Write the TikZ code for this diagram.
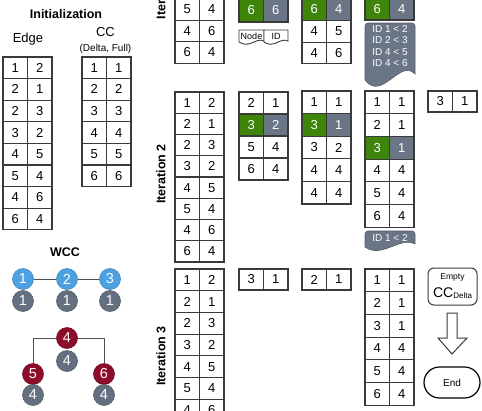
\documentclass[tikz,border=0pt]{standalone}
\usepackage{fontspec}
\setmainfont{Liberation Sans}
\definecolor{linec}{RGB}{58,58,58}
\definecolor{hlg}{RGB}{62,133,10}
\definecolor{hls}{RGB}{106,117,133}
\definecolor{cblue}{RGB}{77,161,224}
\definecolor{cred}{RGB}{140,12,42}
\definecolor{cgray}{RGB}{100,111,128}
\newcommand{\tbl}[6]{%
  \foreach \a/\b [count=\i] in {#6} {%
    \ifnum\i=#5\relax
      \node[cell,fill=hlg,text=white,minimum height=#4] (#1-\i-a) at ({#2},{#3+(\i-1)*#4}) {\a};
      \node[cell,fill=hls,text=white,minimum height=#4] (#1-\i-b) at ({#2+24.5},{#3+(\i-1)*#4}) {\b};
    \else
      \node[cell,minimum height=#4] (#1-\i-a) at ({#2},{#3+(\i-1)*#4}) {\a};
      \node[cell,minimum height=#4] (#1-\i-b) at ({#2+24.5},{#3+(\i-1)*#4}) {\b};
    \fi
  }}
\begin{document}
\begin{tikzpicture}[x=1pt,y=-1pt,
  cell/.style={draw=linec,line width=1.1pt,fill=white,minimum width=24.5,inner sep=0,outer sep=0,anchor=north west,font=\fontsize{13}{14}\selectfont},
  ttl/.style={font=\fontsize{12.5}{14}\selectfont\bfseries,inner sep=0},
  itl/.style={font=\fontsize{12.5}{14}\selectfont\bfseries,inner sep=0,rotate=90},
  circ/.style={circle,minimum size=21,inner sep=0,text=white,font=\fontsize{14.5}{14}\selectfont,line width=0.6pt},
  wire/.style={draw=linec!90,line width=0.9pt},
  docw/.style={draw=linec,line width=0.9pt,fill=white},
  docg/.style={draw=hls!80!black,line width=0.6pt,fill=hls},
  idt/.style={text=white,font=\fontsize{10}{11}\selectfont,inner sep=0},
  small/.style={font=\fontsize{9}{10}\selectfont,inner sep=0}
]
\useasboundingbox (0,0) rectangle (482,410);
\clip (0,0) rectangle (482,410);

% ---------- Initialization ----------
\node[ttl] (tinit) at (66,14) {Initialization};
\node[font=\fontsize{13}{14}\selectfont,inner sep=0] (tedge) at (28,39) {Edge};
\node[font=\fontsize{13}{14}\selectfont,inner sep=0] (tcc) at (105.5,32) {CC};
\node[font=\fontsize{10}{11}\selectfont,inner sep=0] (tccs) at (105.5,48.5) {(Delta, Full)};
\tbl{ie}{3}{57}{21.6}{0}{1/2,2/1,2/3,3/2,4/5,5/4,4/6,6/4}
\tbl{ic}{82}{57}{21.6}{0}{1/1,2/2,3/3,4/4,5/5,6/6}

% ---------- WCC ----------
\node[ttl] (twcc) at (65,252) {WCC};
\node[circ,fill=cblue,draw=cblue!85!black] (b1) at (23,279) {1};
\node[circ,fill=cblue,draw=cblue!85!black] (b2) at (67,279) {2};
\node[circ,fill=cblue,draw=cblue!85!black] (b3) at (110,279) {3};
\node[circ,fill=cgray,draw=cgray!85!black] (g1) at (23,301) {1};
\node[circ,fill=cgray,draw=cgray!85!black] (g2) at (67,301) {1};
\node[circ,fill=cgray,draw=cgray!85!black] (g3) at (110,301) {1};
\draw[wire] (b1) -- (b2);
\draw[wire] (b2) -- (b3);
\node[circ,fill=cred,draw=cred!85!black] (r4) at (67,338) {4};
\node[circ,fill=cgray,draw=cgray!85!black] (g4) at (67,361) {4};
\node[circ,fill=cred,draw=cred!85!black] (r5) at (33,374) {5};
\node[circ,fill=cgray,draw=cgray!85!black] (g5) at (33,395) {4};
\node[circ,fill=cred,draw=cred!85!black] (r6) at (104,374) {6};
\node[circ,fill=cgray,draw=cgray!85!black] (g6) at (104,395) {4};
\draw[wire] (r4.west) -| (r5.north);
\draw[wire] (r4.east) -| (r6.north);

% ---------- Iteration labels ----------
\node[itl,anchor=west] (it1) at (161,19.5) {Iteration 1};
\node[itl] (it2) at (161,174) {Iteration 2};
\node[itl] (it3) at (161,356) {Iteration 3};

% ---------- Iteration 1 ----------
\tbl{ae}{175}{-1.5}{21.6}{0}{5/4,4/6,6/4}
\tbl{a2}{239}{-1.5}{23.5}{1}{6/6}
\tbl{a3}{302}{-1.5}{21.8}{1}{6/4,4/5,4/6}
\tbl{a4}{365}{-1.5}{21.5}{1}{6/4}
\path[docw] (239,30) -- (264,30) -- (264,41) .. controls (256,37) and (250,49) .. (239,42) -- cycle;
\path[docw] (264,30) -- (288,30) -- (288,41) .. controls (280,37) and (274,49) .. (264,42) -- cycle;
\node[small] (lnode) at (251.5,36) {Node};
\node[small] (lid) at (276,36) {ID};
\path[docg] (365,26) [rounded corners=3] -- (365,23) -- (415,23) [sharp corners] -- (415,74) .. controls (400,58) and (382,102) .. (365,80) -- cycle;
\node[idt] (id1) at (390,29.5) {ID 1 < 2};
\node[idt] (id2) at (390,40.5) {ID 2 < 3};
\node[idt] (id3) at (390,52.5) {ID 4 < 5};
\node[idt] (id4) at (390,63.5) {ID 4 < 6};

% ---------- Iteration 2 ----------
\tbl{be}{175}{92}{21.25}{0}{1/2,2/1,2/3,3/2,4/5,5/4,4/6,6/4}
\tbl{b2}{239}{92}{22}{2}{2/1,3/2,5/4,6/4}
\tbl{b3}{302}{91}{22.6}{2}{1/1,3/1,3/2,4/4,4/4}
\tbl{b4}{365}{91}{22.7}{3}{1/1,2/1,3/1,4/4,5/4,6/4}
\tbl{b5}{428}{91}{21}{0}{3/1}
\path[docg] (365,234) [rounded corners=3] -- (365,231) -- (415,231) [sharp corners] -- (415,244) .. controls (400,236) and (382,259) .. (365,247) -- cycle;
\node[idt] (id5) at (390,238.5) {ID 1 < 2};

% ---------- Iteration 3 ----------
\tbl{ce}{175}{269}{21.7}{0}{1/2,2/1,2/3,3/2,4/5,5/4,4/6}
\tbl{c2}{239}{269}{21}{0}{3/1}
\tbl{c3}{302}{269}{21}{0}{2/1}
\tbl{c4}{365}{269}{22.7}{0}{1/1,2/1,3/1,4/4,5/4,6/4}
\node[draw=linec,line width=1pt,rounded corners=6,minimum width=49,minimum height=37,inner sep=0] (empty) at (452.5,286.5) {};
\node[inner sep=0,font=\fontsize{8.5}{9}\selectfont] (emptyt) at (452.5,277.5) {Empty};
\node[inner sep=0] (emptycc) at (452.5,293.5) {{\fontsize{14}{14}\selectfont CC}{\fontsize{8}{8}\selectfont\raisebox{-1pt}{Delta}}};
\node[draw=black,line width=1.2pt,rounded corners=15.5,minimum width=56,minimum height=31,inner sep=0,font=\fontsize{10}{11}\selectfont] (end) at (452,382.5) {End};
\draw[draw=linec,line width=1pt,fill=white] (447,313) -- (457,313) -- (457,338) -- (467,338) -- (452,354) -- (438,338) -- (447,338) -- cycle;
\end{tikzpicture}
\end{document}
